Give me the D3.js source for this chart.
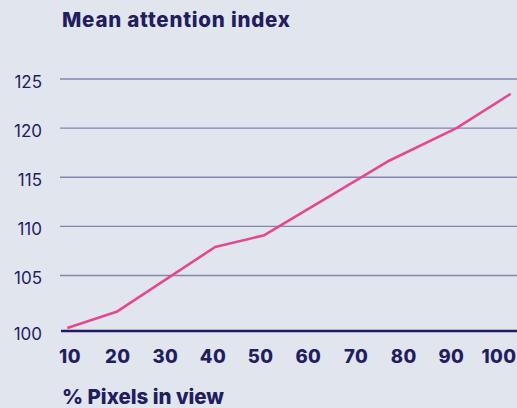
<!DOCTYPE html>
<html>
<head>
<meta charset="utf-8">
<script src="https://cdn.jsdelivr.net/npm/d3@7"></script>
<style>
  html, body { margin: 0; padding: 0; background: #e1e6ee; }
  svg { display: block; }
  text { font-family: Inter, "Noto Sans", sans-serif; }
</style>
</head>
<body>
<svg id="chart" width="517" height="408"></svg>
<script>
// Mean attention index by share of pixels in view
const pixelsInView = [10, 20, 40, 50, 75, 89, 100];
const attentionIndex = [99.66, 101.3, 107.9, 109.1, 116.6, 120.0, 123.5];
const xTickLabels = ["10", "20", "30", "40", "50", "60", "70", "80", "90", "100"];
const yTickValues = [100, 105, 110, 115, 120, 125];

const W = 517, H = 408;
const navy = "#221d5f";
const pink = "#e5488f";
const gridColor = "#8385ad";

const svg = d3.select("#chart");
svg.append("rect").attr("width", W).attr("height", H).attr("fill", "#e1e6ee");

const plotLeft = 60, plotRight = W, plotTop = 79, plotBottom = 331;

const y = d3.scaleLinear().domain([99.35, 125]).range([plotBottom, plotTop]);
const xLine = d3.scaleLinear().domain([10, 100]).range([67.3, 510.7]);
const xLabel = d3.scalePoint().domain(xTickLabels).range([70, 499]);

// horizontal gridlines (the baseline doubles as the 100 line)
svg.append("g").selectAll("line")
  .data(yTickValues.slice(1))
  .join("line")
  .attr("x1", plotLeft).attr("x2", plotRight)
  .attr("y1", d => y(d)).attr("y2", d => y(d))
  .attr("stroke", gridColor).attr("stroke-width", 1.4);

// baseline
svg.append("line")
  .attr("x1", plotLeft + 1).attr("x2", plotRight)
  .attr("y1", plotBottom).attr("y2", plotBottom)
  .attr("stroke", navy).attr("stroke-width", 2.6);

// y tick labels
const yLabelPos = d => d === yTickValues[0] ? plotBottom : y(d);
svg.append("g").selectAll("text")
  .data(yTickValues)
  .join("text")
  .attr("x", 42)
  .attr("y", d => yLabelPos(d) + 9)
  .attr("text-anchor", "end")
  .attr("fill", navy)
  .attr("font-size", 17)
  .attr("font-weight", 400)
  .text(d => d);

// x tick labels
svg.append("g").selectAll("text")
  .data(xTickLabels)
  .join("text")
  .attr("x", d => xLabel(d))
  .attr("y", 363)
  .attr("text-anchor", "middle")
  .attr("fill", navy)
  .attr("font-size", 18.5)
  .attr("font-weight", 800)
  .attr("letter-spacing", 0.4)
  .text(d => d);

// data line
const line = d3.line()
  .x((d, i) => xLine(pixelsInView[i]))
  .y(d => y(d));
svg.append("path")
  .datum(attentionIndex)
  .attr("d", line)
  .attr("fill", "none")
  .attr("stroke", pink)
  .attr("stroke-width", 2.6)
  .attr("stroke-linejoin", "round");

// titles
svg.append("text")
  .attr("x", 62).attr("y", 26.5)
  .attr("fill", navy)
  .attr("font-size", 20.5)
  .attr("font-weight", 800)
  .attr("textLength", 228)
  .attr("lengthAdjust", "spacing")
  .text("Mean attention index");

svg.append("text")
  .attr("x", 62).attr("y", 404)
  .attr("fill", navy)
  .attr("font-size", 20.5)
  .attr("font-weight", 800)
  .attr("textLength", 162)
  .attr("lengthAdjust", "spacing")
  .text("% Pixels in view");
</script>
</body>
</html>
